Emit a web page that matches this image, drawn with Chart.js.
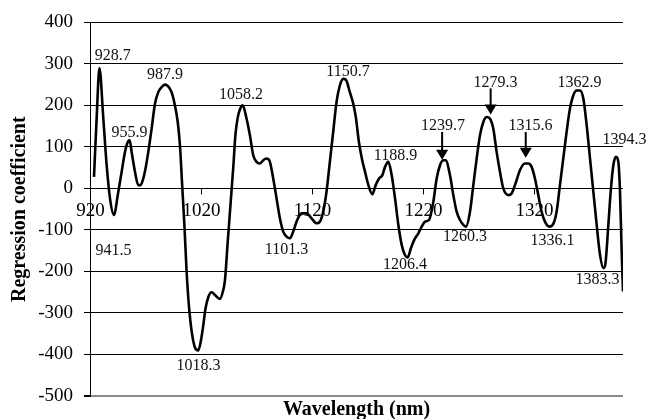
<!DOCTYPE html>
<html>
<head>
<meta charset="utf-8">
<script src="https://cdn.jsdelivr.net/npm/chart.js@4.4.1/dist/chart.umd.min.js"></script>
<style>
    html, body { margin: 0; padding: 0; background: #fff; }
</style>
</head>
<body>
<canvas id="chart" width="647" height="419"></canvas>
<script>
// spectrum
const wavelengths = [
    923.6, 926, 928.5, 932, 935, 938, 941.5, 945.5, 948.5, 951.5, 954, 955.7, 957.5, 960.5, 963.5, 965.5,
    968, 970, 972.5, 975.5, 978.5, 981.5, 984.5, 987.5, 989.5, 992, 994, 996.5, 999, 1001, 1003, 1005,
    1007, 1009, 1011.5, 1014.5, 1017.5, 1020, 1022, 1024, 1026.5, 1029.5, 1033, 1037, 1039.5, 1041.5, 1044, 1046.5,
    1049, 1051, 1053, 1055, 1057.5, 1061, 1064, 1067, 1070, 1073, 1076, 1079, 1082, 1085, 1088, 1091,
    1094, 1097, 1100, 1103, 1106, 1110.5, 1115, 1119.5, 1124, 1127, 1130, 1133, 1136, 1139, 1142, 1145,
    1148, 1150.5, 1154, 1157, 1159.5, 1162, 1165, 1167.7, 1170.7, 1174.3, 1177.3, 1180.3, 1183.3, 1185.7, 1188.7, 1191.7,
    1194.7, 1197.7, 1200.7, 1203.7, 1206.1, 1209, 1212, 1215.7, 1218.7, 1221.7, 1225.3, 1229.2, 1232.2, 1235.2, 1238.2, 1240.3,
    1244.2, 1247.2, 1250.2, 1253.2, 1256.2, 1258.6, 1262.2, 1265.2, 1268.2, 1271.2, 1274.2, 1277.2, 1280.2, 1283.2, 1286.2, 1289.2,
    1292.2, 1296.7, 1299.7, 1302.7, 1307.2, 1311.7, 1314.7, 1317.7, 1320.7, 1323.7, 1326.7, 1329.7, 1333.6, 1336.6, 1340.2, 1343.2,
    1346.2, 1349.2, 1352.2, 1355.2, 1358.3, 1361.3, 1364.3, 1367.3, 1370.3, 1373.3, 1376.3, 1379.3, 1382.3, 1384, 1386.8, 1388.9,
    1391.3, 1393.7, 1395.8, 1397.3, 1398.8, 1400
];
const coefficients = [
    28, 170, 290, 168, 56, -24, -64, -8, 40, 88, 112, 116, 88, 40, 8, 8,
    24, 48, 88, 144, 204, 232, 244, 250, 248, 240, 228, 200, 160, 104, 8, -88,
    -200, -280, -343, -383, -390, -365, -330, -290, -262, -250, -258, -266, -250, -222, -130, -40,
    50, 130, 170, 190, 200, 168, 128, 80, 64, 60, 68, 72, 64, 24, -24, -72,
    -104, -116, -120, -104, -80, -60, -60, -72, -84, -80, -56, -8, 64, 136, 208, 248,
    264, 262, 232, 205, 170, 115, 70, 40, 8, -14, 8, 24, 32, 52, 64, 32,
    -24, -88, -136, -161, -166, -144, -124, -108, -92, -80, -76, -32, 24, 56, 68, 68,
    32, -16, -56, -76, -88, -92, -56, 8, 72, 128, 160, 172, 168, 144, 88, 40,
    0, -16, -12, 8, 44, 60, 60, 52, 24, -16, -56, -80, -92, -88, -56, 8,
    72, 136, 192, 224, 236, 236, 216, 152, 72, -8, -88, -160, -192, -184, -88, -8,
    56, 76, 64, -8, -152, -248
];

const xTicks = [920, 1020, 1120, 1220, 1320];

// peak labels, placed in data units
const peakLabels = ['928.7', '941.5', '955.9', '987.9', '1018.3', '1058.2', '1101.3', '1150.7', '1188.9',
    '1206.4', '1239.7', '1260.3', '1279.3', '1315.6', '1336.1', '1362.9', '1383.3', '1394.3'];
const peakLabelX = [940.4, 941.2, 955.6, 987.5, 1017.7, 1056, 1097, 1152.3, 1195.1,
    1203.7, 1237.9, 1257.7, 1285.2, 1316.7, 1336.5, 1360.8, 1377, 1401.3];
const peakLabelY = [320, -151, 134, 274, -427, 226, -148, 280, 79,
    -184, 151, -117, 255, 151, -126, 254, -219, 118];

// arrows pointing at the marked peaks
const arrowX = [1237.1, 1280.8, 1312.4];
const arrowFrom = [136, 241, 136];
const arrowTo = [69, 178, 74];

const serif = 'Liberation Serif';

const overlay = {
    id: 'overlay',
    afterDraw(chart) {
        const { ctx, chartArea } = chart;
        const xs = chart.scales.x, ys = chart.scales.y;
        const zero = ys.getPixelForValue(0);
        ctx.save();

        // x ticks sit on the zero line
        ctx.strokeStyle = '#000';
        ctx.lineWidth = 1;
        ctx.fillStyle = '#000';
        ctx.font = `19px "${serif}"`;
        ctx.textAlign = 'center';
        ctx.textBaseline = 'top';
        xTicks.forEach(t => {
            const px = Math.round(xs.getPixelForValue(t)) + 0.5;
            ctx.beginPath();
            ctx.moveTo(px, zero);
            ctx.lineTo(px, zero + 6);
            ctx.stroke();
            ctx.fillText(String(t), px, zero + 13);
        });

        // x title
        ctx.font = `bold 20px "${serif}"`;
        ctx.textBaseline = 'middle';
        ctx.fillText('Wavelength (nm)', (chartArea.left + chartArea.right) / 2, chartArea.bottom + 14);

        // peak labels
        ctx.font = `16px "${serif}"`;
        ctx.fillStyle = '#111';
        peakLabels.forEach((txt, i) => {
            ctx.fillText(txt, xs.getPixelForValue(peakLabelX[i]), ys.getPixelForValue(peakLabelY[i]));
        });

        // arrows
        ctx.fillStyle = '#000';
        ctx.lineWidth = 2;
        arrowX.forEach((ax, i) => {
            const px = xs.getPixelForValue(ax);
            const y0 = ys.getPixelForValue(arrowFrom[i]);
            const y1 = ys.getPixelForValue(arrowTo[i]);
            ctx.beginPath();
            ctx.moveTo(px, y0);
            ctx.lineTo(px, y1 - 8);
            ctx.stroke();
            ctx.beginPath();
            ctx.moveTo(px - 6, y1 - 10);
            ctx.lineTo(px + 6, y1 - 10);
            ctx.lineTo(px, y1);
            ctx.closePath();
            ctx.fill();
        });
        ctx.restore();
    }
};

new Chart(document.getElementById('chart'), {
    type: 'line',
    data: {
        datasets: [{
            data: wavelengths.map((w, i) => ({ x: w, y: coefficients[i] })),
            borderColor: '#000',
            borderWidth: 2.6,
            pointRadius: 0,
            fill: false,
            cubicInterpolationMode: 'monotone'
        }]
    },
    options: {
        responsive: false,
        animation: false,
        layout: { padding: { left: 0, top: 20, right: 24, bottom: 23 } },
        plugins: { legend: { display: false }, tooltip: { enabled: false } },
        scales: {
            x: { type: 'linear', min: 920, max: 1400, display: false },
            y: {
                min: -500,
                max: 400,
                ticks: { stepSize: 100, color: '#000', padding: 11, font: { family: serif, size: 19 } },
                grid: {
                    color: c => (c.tick && c.tick.value === -500) ? '#8a8a8a' : '#000',
                    lineWidth: c => (c.tick && c.tick.value === -500) ? 2 : 1,
                    tickLength: 6,
                    tickColor: '#000'
                },
                border: { display: true, color: '#000', width: 1 },
                title: {
                    display: true,
                    text: 'Regression coefficient',
                    color: '#000',
                    font: { family: serif, size: 20, weight: 'bold' },
                    padding: { top: 8, bottom: 0 }
                },
                afterFit: s => { s.width = 90; }
            }
        }
    },
    plugins: [overlay]
});
</script>
</body>
</html>
